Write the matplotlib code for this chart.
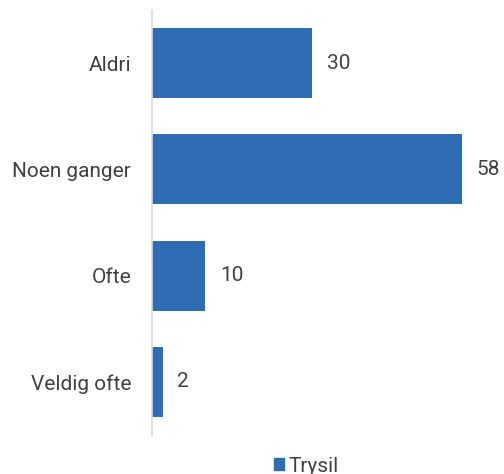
import matplotlib.pyplot as plt
from matplotlib.patches import Patch

categories = ["Aldri", "Noen ganger", "Ofte", "Veldig ofte"]
values = [30, 58, 10, 2]
series_name = "Trysil"

BAR_COLOR = "#2E6DB4"
TEXT_COLOR = "#404040"
plt.rcParams["font.family"] = ["Roboto", "DejaVu Sans"]

fig = plt.figure(figsize=(5.04, 4.74), dpi=100)
ax = fig.add_axes([152 / 504, 1 - 435 / 474, (490 - 152) / 504, 425 / 474])

ypos = list(range(len(categories)))
ax.barh(ypos, values, height=0.66, color=BAR_COLOR)
for y, v in zip(ypos, values):
    ax.text(v + 2.7, y, str(v), ha="left", va="center", fontsize=15, color=TEXT_COLOR)

ax.set_xlim(0, 338 / 5.345)
ax.set_ylim(3.5, -0.5)
ax.set_yticks(ypos)
ax.set_yticklabels(categories, fontsize=15, color=TEXT_COLOR)
ax.tick_params(axis="y", length=0, pad=15)
ax.set_xticks([])
for s in ("top", "right", "bottom"):
    ax.spines[s].set_visible(False)
ax.spines["left"].set_color("#D9D9D9")
ax.spines["left"].set_linewidth(1.2)

fig.legend(handles=[Patch(color=BAR_COLOR, label=series_name)],
           loc="center", bbox_to_anchor=(306 / 504, 1 - 466 / 474),
           frameon=False, fontsize=15, handlelength=0.5, handleheight=0.5,
           handletextpad=0.2, labelcolor=TEXT_COLOR)

fig.savefig("out.png", dpi=100)
